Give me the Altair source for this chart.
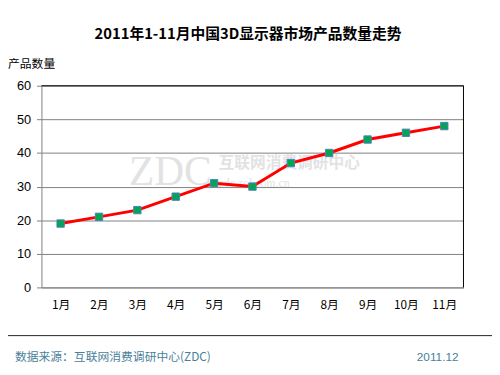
import altair as alt
import pandas as pd

months = ["1月", "2月", "3月", "4月", "5月", "6月", "7月", "8月", "9月", "10月", "11月"]
values = [19, 21, 23, 27, 31, 30, 37, 40, 44, 46, 48]
y_ticks = [0, 10, 20, 30, 40, 50, 60]

title_text = "2011年1-11月中国3D显示器市场产品数量走势"
y_title = "产品数量"
source_text = "数据来源：互联网消费调研中心(ZDC)"
date_text = "2011.12"
wm_logo = "ZDC"
wm_cn = "互联网消费调研中心"
wm_url = "zdc.zol.com.cn"

W, H = 429, 205
LAT = "Liberation Sans"
CJK = "Noto Sans CJK SC"

df = pd.DataFrame({"month": months, "value": values})
one = pd.DataFrame({"a": [0]})

x = alt.X(
    "month:N", sort=months,
    scale=alt.Scale(type="point", padding=0.5),
    axis=alt.Axis(title=None, labelAngle=0, ticks=False, tickSize=0, labelPadding=12,
                  domainColor="#808080", labelFont=CJK, labelFontSize=12,
                  labelColor="#000000", grid=False),
)
y = alt.Y(
    "value:Q",
    scale=alt.Scale(domain=[0, 60], nice=False),
    axis=alt.Axis(title=None, values=y_ticks, tickSize=5, tickColor="#808080",
                  grid=True, gridColor="#808080", gridOpacity=1, domainColor="#808080",
                  labelPadding=6, labelFont=LAT, labelFontSize=13, labelColor="#000000"),
)

base = alt.Chart(df)
line = base.mark_line(color="#ff0000", strokeWidth=3).encode(x=x, y=y)
pts = base.mark_point(shape="square", filled=True, size=56, fill="#00a651",
                      stroke="#4f81bd", strokeWidth=1, opacity=1).encode(x=x, y=y)


def txt(s, xv, yv, **kw):
    return alt.Chart(pd.DataFrame({"t": [s]})).mark_text(baseline="middle", **kw).encode(
        x=alt.value(xv), y=alt.value(yv), text="t:N")


top_border = alt.Chart(one).mark_rule(color="#000000", strokeWidth=1).encode(
    x=alt.value(0), x2=alt.value(W), y=alt.value(0))
right_border = alt.Chart(one).mark_rule(color="#000000", strokeWidth=1).encode(
    x=alt.value(W), y=alt.value(0), y2=alt.value(H))
sep = alt.Chart(one).mark_rule(color="#222222", strokeWidth=1).encode(
    x=alt.value(-34), x2=alt.value(460), y=alt.value(254))

wm1 = txt(wm_logo, 131, 88, font="Liberation Serif", fontSize=42, color="#dcdcdc",
          align="center", opacity=0.8)
wm2 = txt(wm_cn, 180, 79, font=CJK, fontSize=16, fontWeight="bold", color="#dcdcdc",
          align="left", opacity=0.8)
wm3 = txt(wm_url, 180, 99, font="Liberation Serif", fontSize=12, color="#dcdcdc",
          align="left", opacity=0.8)

title = txt(title_text, 210, -53, font=CJK, fontSize=15, fontWeight="bold",
            color="#000000", align="center")
ytitle = txt(y_title, -34, -22, font=CJK, fontSize=12, color="#000000", align="left")
src = txt(source_text, -27, 276, font=CJK, fontSize=12, color="#4a7f9a", align="left")
date = txt(date_text, 424, 276, font=LAT, fontSize=12, color="#4a7f9a", align="right")

chart = alt.layer(
    wm1, wm2, wm3, line, pts, top_border, right_border, sep, title, ytitle, src, date
).properties(
    width=W, height=H,
    autosize=alt.AutoSizeParams(type="none"),
    padding={"left": 34, "top": 76, "right": 29, "bottom": 86},
    background="#ffffff",
).configure_view(stroke=None)

chart.save("out.html", embed_options={"renderer": "svg", "actions": False})
